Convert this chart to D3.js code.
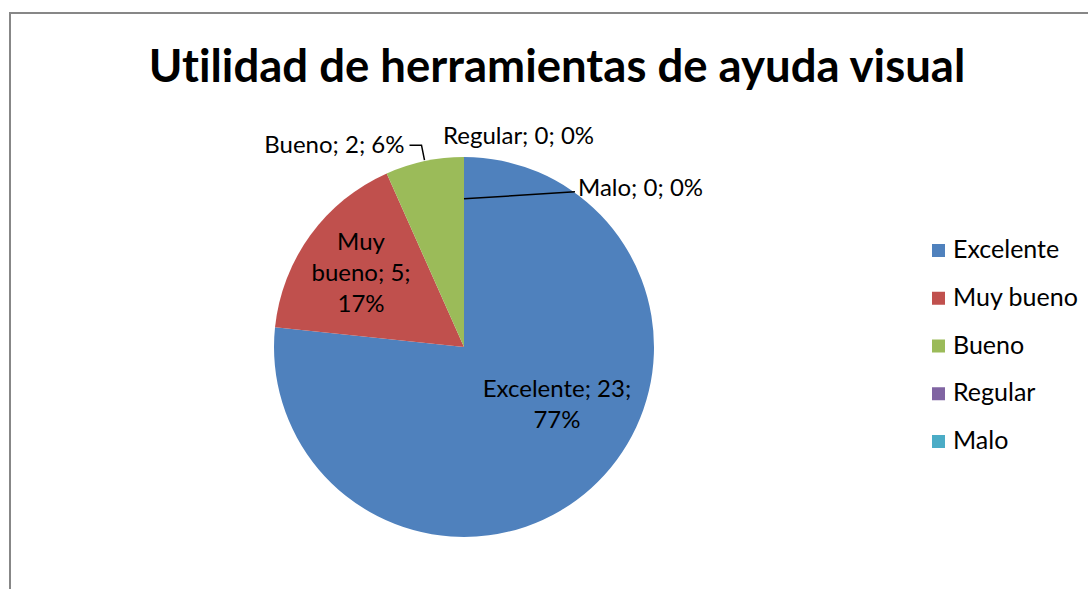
<!DOCTYPE html>
<html>
<head>
<meta charset="utf-8">
<script src="https://cdn.jsdelivr.net/npm/d3@7"></script>
<style>
  body { margin: 0; background: #fff; }
  svg { display: block; font-family: Lato, "Open Sans", sans-serif; font-variant-ligatures: none; }
</style>
</head>
<body>
<div id="chart"></div>
<script>
// Chart data
const categories = ["Excelente", "Muy bueno", "Bueno", "Regular", "Malo"];
const values = [23, 5, 2, 0, 0];
const percentLabels = ["77%", "17%", "6%", "0%", "0%"];
const colors = ["#4f81bd", "#c0504d", "#9bbb59", "#8064a2", "#4bacc6"];
const chartTitle = "Utilidad de herramientas de ayuda visual";

const width = 1088, height = 589;
const cx = 464, cy = 347, radius = 190;
const fontSize = 24;

const svg = d3.select("#chart").append("svg")
    .attr("width", width)
    .attr("height", height);

// chart area frame
svg.append("rect")
    .attr("x", 10).attr("y", 13)
    .attr("width", 1100).attr("height", 600)
    .style("fill", "white")
    .style("stroke", "#878787")
    .style("stroke-width", 2);

svg.append("text")
    .attr("x", 557).attr("y", 82)
    .style("text-anchor", "middle")
    .style("font-size", "45.5px")
    .style("font-weight", "bold")
    .style("fill", "#000")
    .text(chartTitle);

const pie = d3.pie().sort(null).value(d => d);
const arcs = pie(values);
const arc = d3.arc().innerRadius(0).outerRadius(radius);

const g = svg.append("g").attr("transform", `translate(${cx},${cy})`);

g.selectAll("path.slice")
    .data(arcs)
    .join("path")
    .attr("class", "slice")
    .attr("d", arc)
    .style("fill", (d, i) => colors[i]);

// data labels
const labelStyle = sel => sel
    .style("font-size", fontSize + "px")
    .style("fill", "#000")
    .style("text-anchor", "middle");

const pointAt = (angle, r) => [r * Math.sin(angle), -r * Math.cos(angle)];

// Excelente: inside, two lines
{
    const d = arcs[0];
    const [x, y] = pointAt((d.startAngle + d.endAngle) / 2 - 0.33, radius * 0.56);
    const t = g.append("text").call(labelStyle).attr("x", x).attr("y", y - 2);
    t.append("tspan").attr("x", x).attr("dy", 0).text(`${categories[0]}; ${values[0]};`);
    t.append("tspan").attr("x", x).attr("dy", 31).text(percentLabels[0]);
}

// Muy bueno: inside, three lines
{
    const d = arcs[1];
    const [x, y] = pointAt((d.startAngle + d.endAngle) / 2, radius * 0.67);
    const words = categories[1].split(" ");
    const t = g.append("text").call(labelStyle).attr("x", x).attr("y", y - 22);
    t.append("tspan").attr("x", x).attr("dy", 0).text(words[0]);
    t.append("tspan").attr("x", x).attr("dy", 31).text(`${words[1]}; ${values[1]};`);
    t.append("tspan").attr("x", x).attr("dy", 31).text(percentLabels[1]);
}

// Bueno: outside with leader line
{
    const d = arcs[2];
    const [ex, ey] = pointAt((d.startAngle + d.endAngle) / 2, radius);
    g.append("polyline")
        .attr("points", [[ex, ey - 1], [ex - 3, ey - 16], [ex - 15, ey - 16]].join(" "))
        .style("fill", "none")
        .style("stroke", "#000")
        .style("stroke-width", 1.5);
    g.append("text").call(labelStyle)
        .style("text-anchor", "end")
        .attr("x", ex - 20).attr("y", ey - 8)
        .text(`${categories[2]}; ${values[2]}; ${percentLabels[2]}`);
}

// Regular: zero slice, label above top
{
    const d = arcs[3];
    const [ex, ey] = pointAt(d.startAngle, radius);
    g.append("text").call(labelStyle)
        .style("text-anchor", "start")
        .attr("x", ex - 21).attr("y", ey - 13)
        .text(`${categories[3]}; ${values[3]}; ${percentLabels[3]}`);
}

// Malo: zero slice, label to the right with leader
{
    const d = arcs[4];
    const [sx, sy] = pointAt(d.startAngle, radius * 0.78);
    g.append("line")
        .attr("x1", sx).attr("y1", sy)
        .attr("x2", sx + 111).attr("y2", sy - 7)
        .style("stroke", "#000")
        .style("stroke-width", 1.5);
    g.append("text").call(labelStyle)
        .style("text-anchor", "start")
        .attr("x", sx + 114).attr("y", sy - 3)
        .text(`${categories[4]}; ${values[4]}; ${percentLabels[4]}`);
}

// legend
const legendY = d3.scalePoint().domain(categories).range([250, 441]);
const legend = svg.append("g");
const items = legend.selectAll("g")
    .data(categories)
    .join("g")
    .attr("transform", d => `translate(932,${legendY(d)})`);
items.append("rect")
    .attr("x", 0).attr("y", -6)
    .attr("width", 13).attr("height", 13)
    .style("fill", (d, i) => colors[i]);
items.append("text")
    .attr("x", 21).attr("y", 8)
    .style("font-size", "25px")
    .style("fill", "#000")
    .text(d => d);
</script>
</body>
</html>
